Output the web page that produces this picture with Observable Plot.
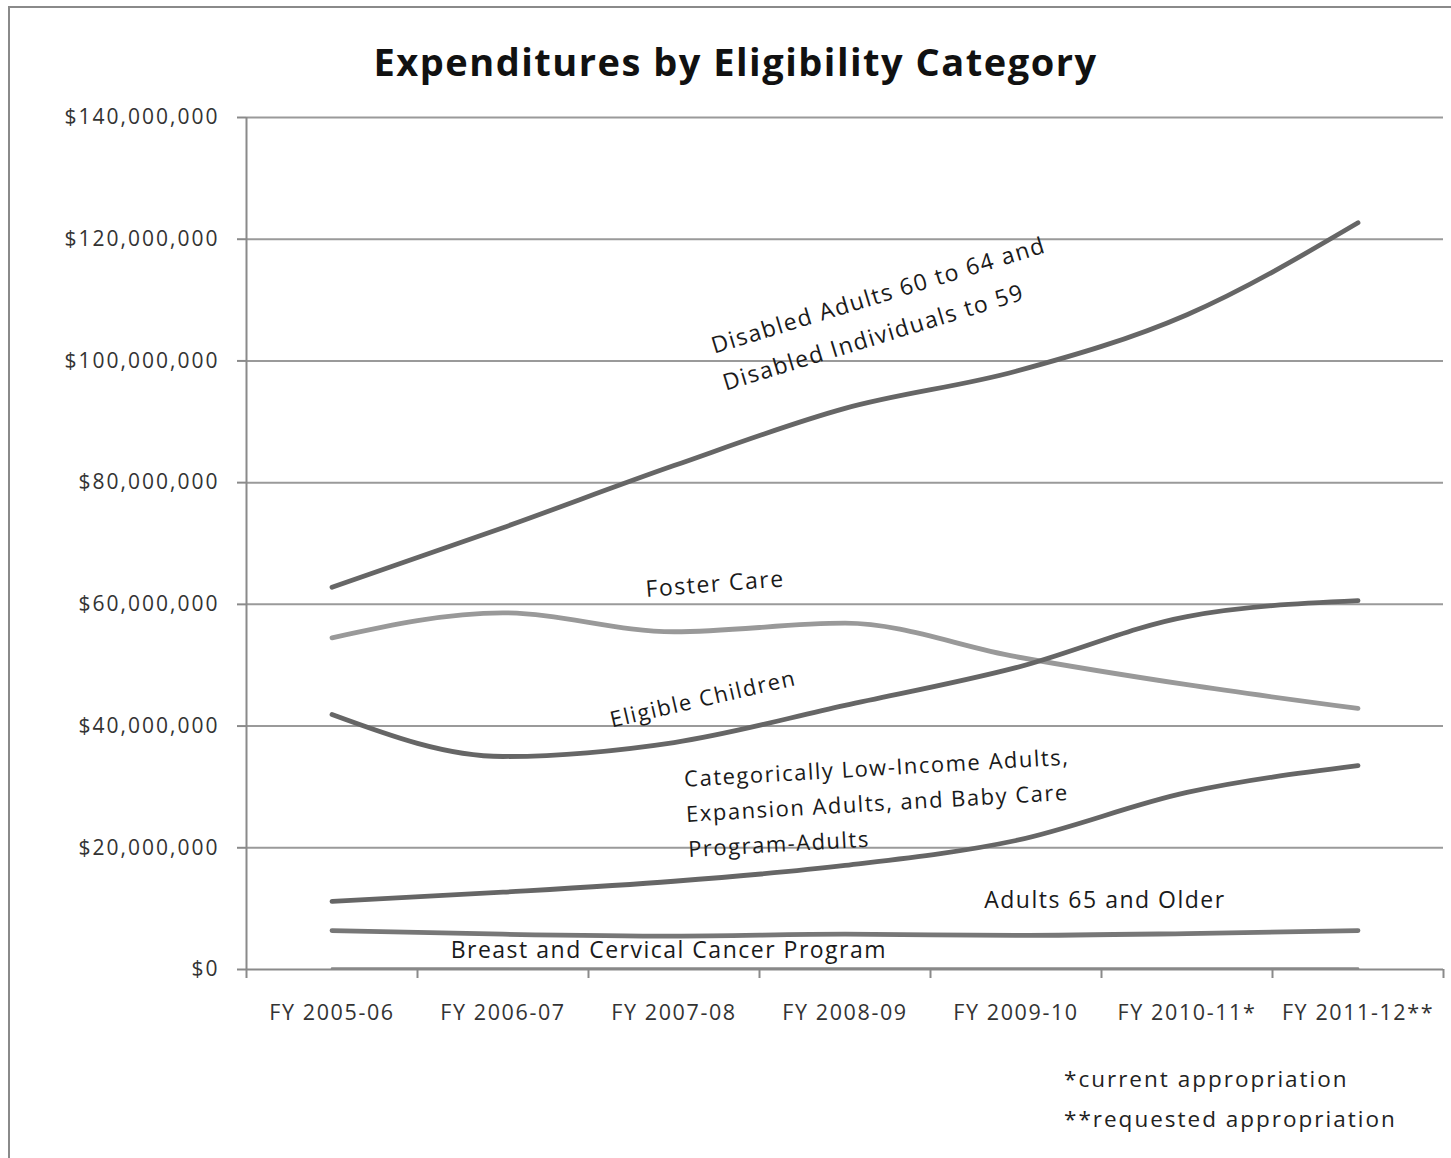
<!DOCTYPE html>
<html>
<head>
<meta charset="utf-8">
<script src="https://cdn.jsdelivr.net/npm/d3@7"></script>
<script src="https://cdn.jsdelivr.net/npm/@observablehq/plot@0.6"></script>
<style>
  html, body { margin: 0; padding: 0; background: #fff; }
  #page { position: relative; width: 1451px; height: 1158px; overflow: hidden; font-family: "Open Sans", sans-serif; }
  #frame { position: absolute; left: 8px; top: 6px; width: 1500px; height: 1200px; border-left: 2px solid #8a8a8a; border-top: 2px solid #8a8a8a; }
  #title { position: absolute; left: 20px; width: 1431px; top: 36px; text-align: center; font-weight: 700; font-size: 38px; letter-spacing: 1.5px; line-height: 50px; color: #111; }
  #chart { position: absolute; left: 0; top: 100px; }
  #notes { position: absolute; left: 1064px; top: 1059px; font-size: 22.5px; letter-spacing: 2px; line-height: 40px; color: #222; }
  #chart g[aria-label="y-axis tick label"] text { letter-spacing: 2px; }
  #chart g[aria-label="x-axis tick label"] text { letter-spacing: 1.6px; }
  #chart g[aria-label="text"] text { letter-spacing: 1.5px; }
</style>
</head>
<body>
<div id="page">
  <div id="frame"></div>
  <div id="title">Expenditures by Eligibility Category</div>
  <div id="chart"></div>
  <div id="notes"><div>*current appropriation</div><div>**requested appropriation</div></div>
</div>
<script>
const categories = ["FY 2005-06", "FY 2006-07", "FY 2007-08", "FY 2008-09", "FY 2009-10", "FY 2010-11*", "FY 2011-12**"];
const yTicks = [0, 20e6, 40e6, 60e6, 80e6, 100e6, 120e6, 140e6];

const disabled       = [62.8e6, 72.6e6, 82.8e6, 92.2e6, 98.3e6, 107.6e6, 122.7e6];
const fosterCare     = [54.5e6, 58.6e6, 55.5e6, 56.9e6, 51.4e6, 46.8e6, 42.9e6];
const eligibleChild  = [41.9e6, 35.0e6, 37.3e6, 43.4e6, 49.6e6, 58.0e6, 60.6e6];
const lowIncome      = [11.2e6, 12.7e6, 14.5e6, 17.1e6, 21.2e6, 29.1e6, 33.5e6];
const adults65       = [6.4e6, 5.8e6, 5.5e6, 5.8e6, 5.6e6, 5.9e6, 6.4e6];
const breastCancer   = [0.15e6, 0.15e6, 0.15e6, 0.15e6, 0.15e6, 0.15e6, 0.15e6];

const seriesList = [
  {name: "Disabled", values: disabled},
  {name: "Foster Care", values: fosterCare},
  {name: "Eligible Children", values: eligibleChild},
  {name: "Low Income", values: lowIncome},
  {name: "Adults 65", values: adults65},
  {name: "Breast", values: breastCancer}
];
const strokeOf = {"Disabled": "#666", "Foster Care": "#999", "Eligible Children": "#666", "Low Income": "#666", "Adults 65": "#777", "Breast": "#888"};
const widthOf = {"Disabled": 4.8, "Foster Care": 4.8, "Eligible Children": 4.8, "Low Income": 4.8, "Adults 65": 4.8, "Breast": 2.5};

const rows = seriesList.flatMap(s => s.values.map((v, i) => ({series: s.name, i, v})));

// annotation labels (placed in data coordinates)
const annotations = [
  {text: "Disabled Adults 60 to 64 and", i: 3.196, v: 110.7e6, rotate: -17, anchor: "middle", lh: 1, size: 23},
  {text: "Disabled Individuals to 59", i: 3.167, v: 103.8e6, rotate: -17, anchor: "middle", lh: 1, size: 23},
  {text: "Foster Care", i: 2.24, v: 63.3e6, rotate: -4.4, anchor: "middle", lh: 1, size: 23},
  {text: "Eligible Children", i: 2.17, v: 44.4e6, rotate: -13, anchor: "middle", lh: 1, size: 22},
  {text: "Categorically Low-Income Adults,\nExpansion Adults, and Baby Care\nProgram-Adults", i: 2.07, v: 26.1e6, rotate: -3.3, anchor: "start", lh: 1.6, size: 22},
  {text: "Adults 65 and Older", i: 4.52, v: 11.3e6, rotate: 0, anchor: "middle", lh: 1, size: 23},
  {text: "Breast and Cervical Cancer Program", i: 1.97, v: 3.1e6, rotate: 0, anchor: "middle", lh: 1, size: 23}
];

const marks = [
  Plot.gridY(yTicks.slice(1), {stroke: "#9a9a9a", strokeOpacity: 1, strokeWidth: 2}),
  Plot.ruleX([-0.5], {y1: 0, y2: 140e6, stroke: "#8a8a8a", strokeWidth: 2}),
  Plot.ruleY([0], {stroke: "#8a8a8a", strokeWidth: 2}),
  Plot.axisY({ticks: yTicks, tickFormat: d3.format("$,"), tickSize: 9, tickPadding: 18, fontSize: 21, stroke: "#8a8a8a", strokeWidth: 2, color: "#333", label: null}),
  Plot.axisX({ticks: d3.range(-0.5, 7, 1), tickSize: 9, tickFormat: () => "", stroke: "#8a8a8a", strokeWidth: 2, label: null}),
  Plot.axisX({ticks: d3.range(0, 7), tickSize: 0, tickPadding: 35, tickFormat: i => categories[i], fontSize: 21.5, color: "#333", label: null}),
  ...seriesList.map(s => Plot.line(rows.filter(r => r.series === s.name), {
    x: "i", y: "v", stroke: strokeOf[s.name], strokeWidth: widthOf[s.name], curve: "monotone-x", strokeLinecap: "round", strokeLinejoin: "round"
  })),
  ...annotations.map(a => Plot.text([a], {
    x: "i", y: "v", text: "text", rotate: a.rotate, textAnchor: a.anchor, lineAnchor: "middle",
    lineHeight: a.lh, fontSize: a.size, fill: "#1a1a1a", fontFamily: "Open Sans"
  }))
];

const chart = Plot.plot({
  width: 1451,
  height: 950,
  marginLeft: 246,
  marginRight: 8,
  marginTop: 17,
  marginBottom: 81,
  x: {domain: [-0.5, 6.5], axis: null},
  y: {domain: [0, 140e6], axis: null},
  style: {fontFamily: "Open Sans", background: "transparent", overflow: "visible"},
  marks
});
document.getElementById("chart").appendChild(chart);
</script>
</body>
</html>
